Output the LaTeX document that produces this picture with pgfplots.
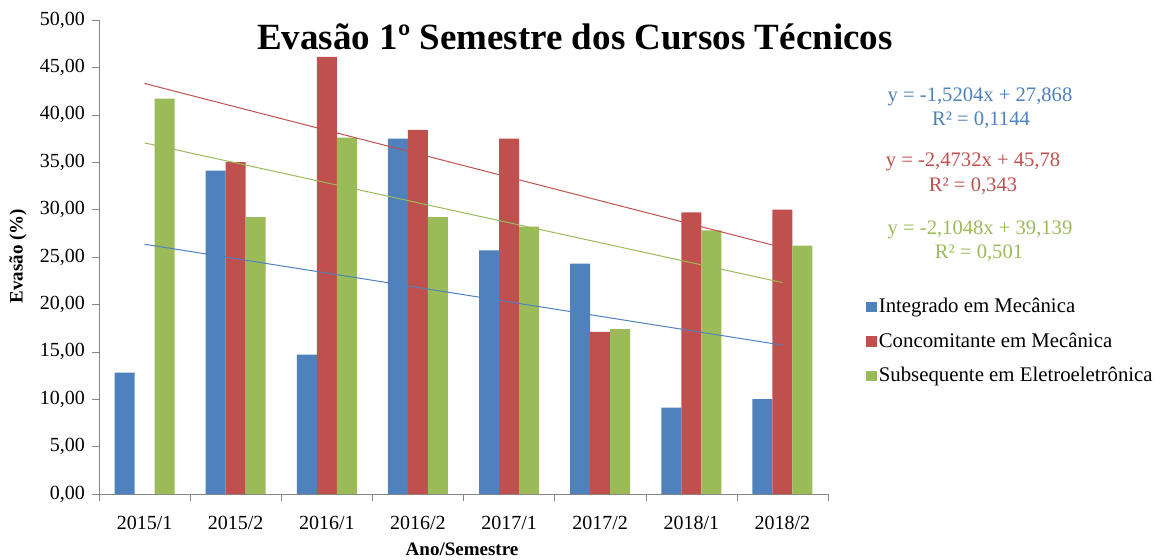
\documentclass[border=0pt]{standalone}
\usepackage{fontspec}
\setmainfont{Liberation Serif}
\usepackage{pgfplots}
\pgfplotsset{compat=1.18}
\definecolor{cblue}{RGB}{79,129,189}
\definecolor{cred}{RGB}{192,80,77}
\definecolor{cgreen}{RGB}{155,187,89}
\definecolor{axgray}{RGB}{134,134,134}
\begin{document}
\begin{tikzpicture}
\path[use as bounding box] (-49.5pt,-32.5pt) rectangle (531.5pt,247pt);
\begin{axis}[
  at={(0,0)}, anchor=south west,
  scale only axis, width=364.5pt, height=237pt,
  ybar=0pt, bar width=10pt,
  xmin=0.5, xmax=8.5, ymin=0, ymax=50,
  xtick={1,...,8},
  xticklabels={2015/1,2015/2,2016/1,2016/2,2017/1,2017/2,2018/1,2018/2},
  minor xtick={0.5,1.5,...,8.5},
  major x tick style={draw=none},
  ytick={0,5,...,50},
  axis x line=bottom, axis y line=left,
  axis line style={draw=axgray,-},
  tick style={draw=axgray},
  tick align=outside,
  major tick length=3.5pt, minor tick length=3.5pt,
  xticklabel style={font=\fontsize{10}{12}\selectfont, yshift=-4pt},
  yticklabel style={font=\fontsize{10}{12}\selectfont},
  /pgf/number format/.cd, fixed, fixed zerofill, precision=2, use comma, 1000 sep={}, assume math mode=true,
  /pgfplots/.cd,
  ylabel={Evasão (\%)},
  ylabel style={at={(axis description cs:-0.111,0.502)}, anchor=center, font=\bfseries\fontsize{9.5}{11}\selectfont},
  xlabel={Ano/Semestre},
  xlabel style={at={(axis description cs:0.498,-0.116)}, anchor=center, font=\bfseries\fontsize{9.5}{11}\selectfont},
  legend style={at={(1.044,0.427)}, anchor=north west, draw=none, fill=none,
    font=\fontsize{10.4}{12}\selectfont, row sep=6.6pt, nodes={inner sep=1pt}},
  legend cell align=left,
  legend image code/.code={\fill[#1] (0pt,-2.6pt) rectangle (5.2pt,2.6pt);},
]
\addplot[fill=cblue, draw=none] coordinates {(1,12.8) (2,34.1) (3,14.7) (4,37.5) (5,25.7) (6,24.3) (7,9.1) (8,10.0)};
\addplot[fill=cred, draw=none] coordinates {(2,35.0) (3,46.1) (4,38.4) (5,37.5) (6,17.1) (7,29.7) (8,30.0)};
\addplot[fill=cgreen, draw=none] coordinates {(1,41.7) (2,29.2) (3,37.6) (4,29.2) (5,28.2) (6,17.4) (7,27.8) (8,26.2)};
\legend{Integrado em Mecânica, Concomitante em Mecânica, Subsequente em Eletroeletrônica}
\addplot[sharp plot, forget plot, no marks, draw=cblue, line width=0.5pt] coordinates {(1,26.348) (8,15.705)};
\addplot[sharp plot, forget plot, no marks, draw=cred, line width=0.5pt] coordinates {(1,43.307) (8,25.992)};
\addplot[sharp plot, forget plot, no marks, draw=cgreen, line width=0.5pt] coordinates {(1,37.034) (8,22.301)};
\end{axis}
\node[font=\bfseries\fontsize{18.5}{22}\selectfont] at (238pt,228.5pt) {Evasão 1º Semestre dos Cursos Técnicos};
\begin{scope}[every node/.style={font=\fontsize{10.3}{12}\selectfont, inner sep=0pt}]
\node[text=cblue] at (440.5pt,198.5pt) {y = -1,5204x + 27,868};
\node[text=cblue] at (441pt,187pt) {R² = 0,1144};
\node[text=cred] at (437pt,166pt) {y = -2,4732x + 45,78};
\node[text=cred] at (437pt,154pt) {R² = 0,343};
\node[text=cgreen] at (440.5pt,132pt) {y = -2,1048x + 39,139};
\node[text=cgreen] at (440pt,120.5pt) {R² = 0,501};
\end{scope}
\end{tikzpicture}
\end{document}
